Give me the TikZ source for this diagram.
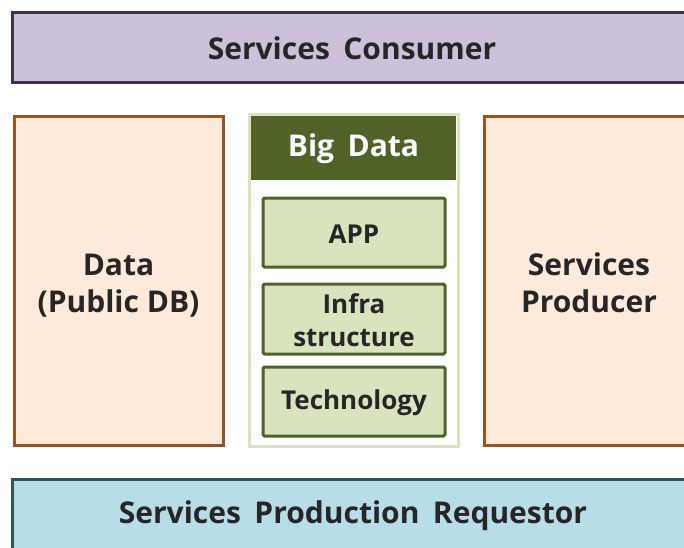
\documentclass[tikz,border=0pt]{standalone}
\usepackage{fontspec}
\setmainfont{Open Sans}
\definecolor{consumerfill}{HTML}{CCC1DA}
\definecolor{consumerline}{HTML}{3F3151}
\definecolor{peachfill}{HTML}{FDEADA}
\definecolor{peachline}{HTML}{A0521D}
\definecolor{lightgreen}{HTML}{D7E4BD}
\definecolor{darkgreen}{HTML}{4F6228}
\definecolor{requestfill}{HTML}{B7DEE8}
\definecolor{requestline}{HTML}{2E5662}
\tikzset{
  px/.style={x=1pt,y=-1pt},
  bar/.style={draw, line width=3pt, inner sep=0pt},
  sidebox/.style={draw=peachline, fill=peachfill, line width=3pt},
  layerbox/.style={draw=darkgreen, fill=lightgreen, line width=3pt, rounded corners=1.5pt},
  lbl/.style={font=\bfseries\fontsize{30}{37}\selectfont, align=center, text=black!85},
  smalllbl/.style={font=\bfseries\fontsize{26}{33}\selectfont, align=center, text=black!85}
}
\newcommand{\wsp}{\hspace{0.45em}}
\begin{document}
\begin{tikzpicture}[px]
\useasboundingbox (0,0) rectangle (684,547);
\clip (0,0) rectangle (684,547);
\fill[white] (0,0) rectangle (684,547);

% top bar
\draw[bar, draw=consumerline, fill=consumerfill] (12,12) rectangle (700,82);
\node[lbl] (consumer) at (352,48) {Services\wsp Consumer};

% left data box
\draw[sidebox] (14,116) rectangle (223,445);
\node[lbl] (data) at (118.5,286) {Data\\(Public DB)};

% big data column
\draw[draw=lightgreen, fill=white, line width=3pt] (249,114) rectangle (458,446);
\fill[darkgreen] (251,116) rectangle (456,180);
\node[lbl, text=white] (bigdata) at (353.5,149) {Big\wsp Data};

\draw[layerbox] (263,198) rectangle (445,267);
\node[smalllbl] (app) at (354,234) {APP};
\draw[layerbox] (263,284) rectangle (445,354);
\node[smalllbl] (infra) at (354,320) {Infra\\structure};
\draw[layerbox] (263,367) rectangle (445,436);
\node[smalllbl] (tech) at (354,403) {Technology};

% right producer box
\draw[sidebox] (484,116) rectangle (700,445);
\node[lbl] (producer) at (589,283) {Services\\Producer};

% bottom bar
\draw[bar, draw=requestline, fill=requestfill] (12,479) rectangle (700,560);
\node[lbl] (requestor) at (353,516) {Services\wsp Production\wsp Requestor};
\end{tikzpicture}
\end{document}
